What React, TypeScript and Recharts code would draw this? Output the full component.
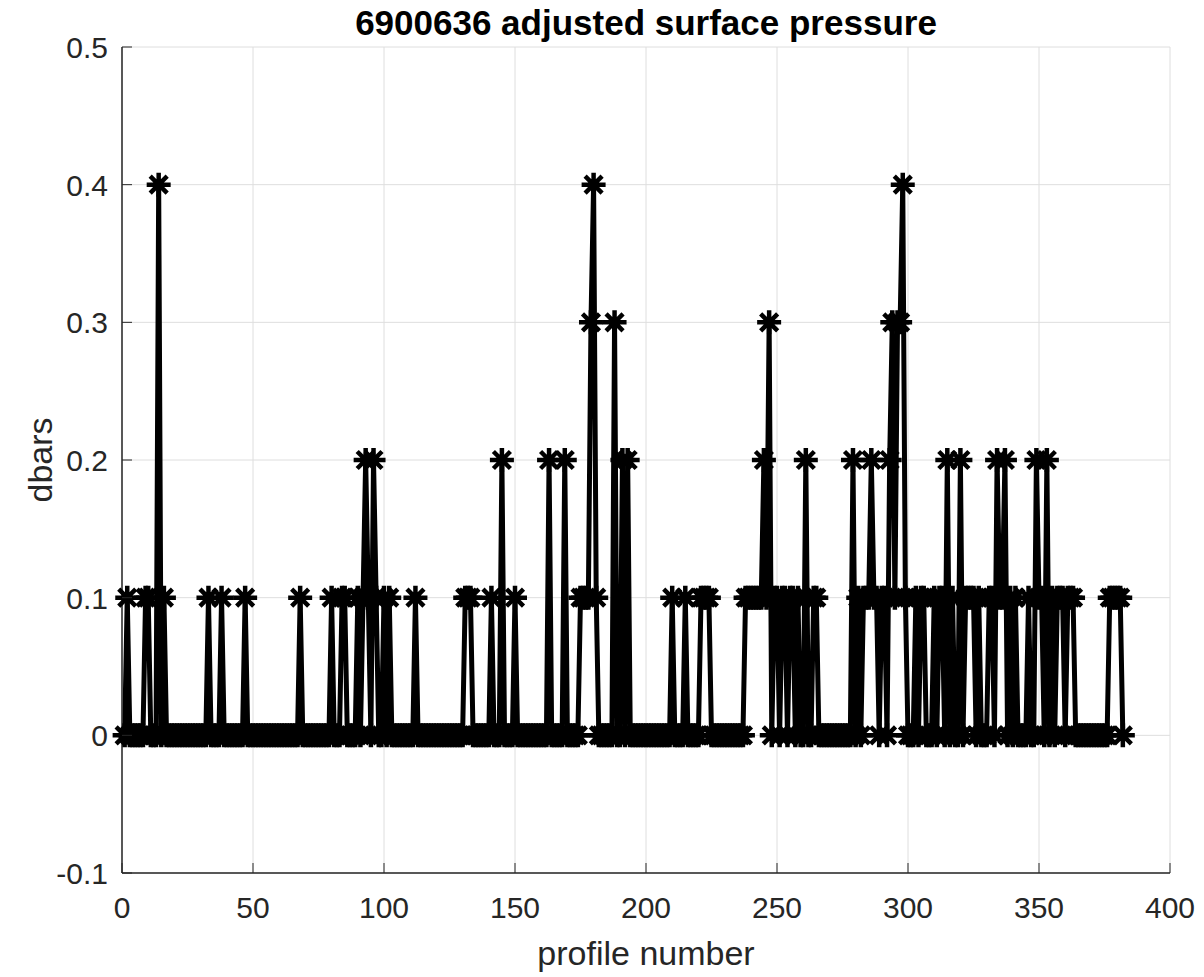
import { CartesianGrid, Line, LineChart, XAxis, YAxis } from 'recharts';

// profiles run 1..lastProfile, every profile not listed below sits at 0 dbar
const lastProfile = 382;
const spikeProfiles = [
  2, 9, 10, 14, 16, 33, 38, 47, 68,
  80, 84, 85, 90, 92, 93, 94, 96, 97, 100, 102, 112,
  131, 132, 133, 141, 145, 150, 163, 169, 175, 176, 177, 178, 179, 180, 181, 188, 191, 193,
  210, 215, 221, 222, 223, 224, 238, 239, 240, 241, 242, 243, 244, 245, 246, 247, 249, 250,
  252, 253, 255, 256, 258, 261, 264, 265,
  279, 281, 283, 284, 285, 286, 287, 288, 290, 291, 293, 294, 295, 296, 297, 298, 299,
  303, 305, 306, 310, 312, 313, 315, 317, 320, 322, 323, 324, 325, 327, 331, 332, 334, 335,
  336, 337, 339, 341, 346, 349, 350, 351, 353, 355, 357, 358, 359, 361, 362, 363,
  377, 378, 379, 380, 381,
];
const spikeValues = [
  0.1, 0.1, 0.1, 0.4, 0.1, 0.1, 0.1, 0.1, 0.1,
  0.1, 0.1, 0.1, 0.1, 0.1, 0.2, 0.1, 0.2, 0.1, 0.1, 0.1, 0.1,
  0.1, 0.1, 0.1, 0.1, 0.2, 0.1, 0.2, 0.2, 0.1, 0.1, 0.1, 0.1, 0.3, 0.4, 0.1, 0.3, 0.2, 0.2,
  0.1, 0.1, 0.1, 0.1, 0.1, 0.1, 0.1, 0.1, 0.1, 0.1, 0.1, 0.1, 0.1, 0.2, 0.1, 0.3, 0.1, 0.1,
  0.1, 0.1, 0.1, 0.1, 0.1, 0.2, 0.1, 0.1,
  0.2, 0.1, 0.1, 0.1, 0.1, 0.2, 0.1, 0.1, 0.1, 0.1, 0.2, 0.3, 0.1, 0.3, 0.3, 0.4, 0.1,
  0.1, 0.1, 0.1, 0.1, 0.1, 0.1, 0.2, 0.1, 0.2, 0.1, 0.1, 0.1, 0.1, 0.1, 0.1, 0.1, 0.2, 0.1,
  0.1, 0.2, 0.1, 0.1, 0.1, 0.2, 0.1, 0.1, 0.2, 0.1, 0.1, 0.1, 0.1, 0.1, 0.1, 0.1,
  0.1, 0.1, 0.1, 0.1, 0.1,
];

const xTicks = [0, 50, 100, 150, 200, 250, 300, 350, 400];
const yTicks = [-0.1, 0, 0.1, 0.2, 0.3, 0.4, 0.5];

const font = '"Liberation Sans", Arial, Helvetica, sans-serif';
const axisColor = '#262626';

const rows = Array.from({ length: lastProfile }, (_, i) => {
  const profile = i + 1;
  const k = spikeProfiles.indexOf(profile);
  return { profile, value: k >= 0 ? spikeValues[k] : 0 };
});

function Star(props: any) {
  const { cx, cy } = props;
  if (cx == null || cy == null) return null;
  const r = 12;
  const d = 8.5;
  const path =
    `M${cx - r},${cy}L${cx + r},${cy}M${cx},${cy - r}L${cx},${cy + r}` +
    `M${cx - d},${cy - d}L${cx + d},${cy + d}M${cx - d},${cy + d}L${cx + d},${cy - d}`;
  return <path d={path} stroke="#000" strokeWidth={4.5} fill="none" />;
}

function BottomTick({ x, y, payload }: any) {
  return (
    <g>
      <line x1={x} y1={y} x2={x} y2={y - 10} stroke={axisColor} strokeWidth={1} />
      <text x={x} y={y + 45} textAnchor="middle" fontSize={30} fill={axisColor} fontFamily={font}>
        {String(payload.value)}
      </text>
    </g>
  );
}

function TopTick({ x, y }: any) {
  return <line x1={x} y1={y} x2={x} y2={y + 10} stroke={axisColor} strokeWidth={1} />;
}

function LeftTick({ x, y, payload }: any) {
  return (
    <g>
      <line x1={x} y1={y} x2={x + 10} y2={y} stroke={axisColor} strokeWidth={1} />
      <text x={x - 14} y={y + 11} textAnchor="end" fontSize={30} fill={axisColor} fontFamily={font}>
        {String(payload.value)}
      </text>
    </g>
  );
}

function RightTick({ x, y }: any) {
  return <line x1={x} y1={y} x2={x - 10} y2={y} stroke={axisColor} strokeWidth={1} />;
}

export default function App() {
  return (
    <div style={{ position: 'absolute', left: 0, top: 0, width: 1204, height: 977, background: '#fff' }}>
      <LineChart width={1204} height={977} data={rows} margin={{ top: 47, right: 34, bottom: 0, left: 0 }}>
        <CartesianGrid stroke="#dedede" strokeWidth={1} />
        <XAxis
          dataKey="profile"
          type="number"
          domain={[0, 400]}
          ticks={xTicks}
          height={104}
          tickSize={0}
          tickMargin={0}
          tickLine={false}
          axisLine={{ stroke: axisColor, strokeWidth: 1.5 }}
          tick={<BottomTick />}
          interval={0}
        />
        <XAxis
          xAxisId="top"
          orientation="top"
          type="number"
          domain={[0, 400]}
          ticks={xTicks}
          height={0}
          tickSize={0}
          tickMargin={0}
          tickLine={false}
          axisLine={{ stroke: axisColor, strokeWidth: 1.5 }}
          tick={<TopTick />}
          interval={0}
        />
        <YAxis
          type="number"
          domain={[-0.1, 0.5]}
          ticks={yTicks}
          width={122}
          tickSize={0}
          tickMargin={0}
          tickLine={false}
          axisLine={{ stroke: axisColor, strokeWidth: 1.5 }}
          tick={<LeftTick />}
          interval={0}
        />
        <YAxis
          yAxisId="right"
          orientation="right"
          type="number"
          domain={[-0.1, 0.5]}
          ticks={yTicks}
          width={0}
          tickSize={0}
          tickMargin={0}
          tickLine={false}
          axisLine={{ stroke: axisColor, strokeWidth: 1.5 }}
          tick={<RightTick />}
          interval={0}
        />
        <Line
          type="linear"
          dataKey="value"
          stroke="#000"
          strokeWidth={5}
          dot={(p: any) => <Star key={`s-${p.index}`} {...p} />}
          activeDot={false}
          isAnimationActive={false}
        />
      </LineChart>
      <svg width={1204} height={977} style={{ position: 'absolute', left: 0, top: 0, pointerEvents: 'none' }}>
        <text x={646} y={35} textAnchor="middle" fontSize={35} fontWeight="bold" fill="#000" fontFamily={font}>
          6900636 adjusted surface pressure
        </text>
        <text x={646} y={965} textAnchor="middle" fontSize={34} fill={axisColor} fontFamily={font}>
          profile number
        </text>
        <text
          x={52}
          y={460}
          textAnchor="middle"
          fontSize={34}
          fill={axisColor}
          fontFamily={font}
          transform="rotate(-90 52 460)"
        >
          dbars
        </text>
      </svg>
    </div>
  );
}
